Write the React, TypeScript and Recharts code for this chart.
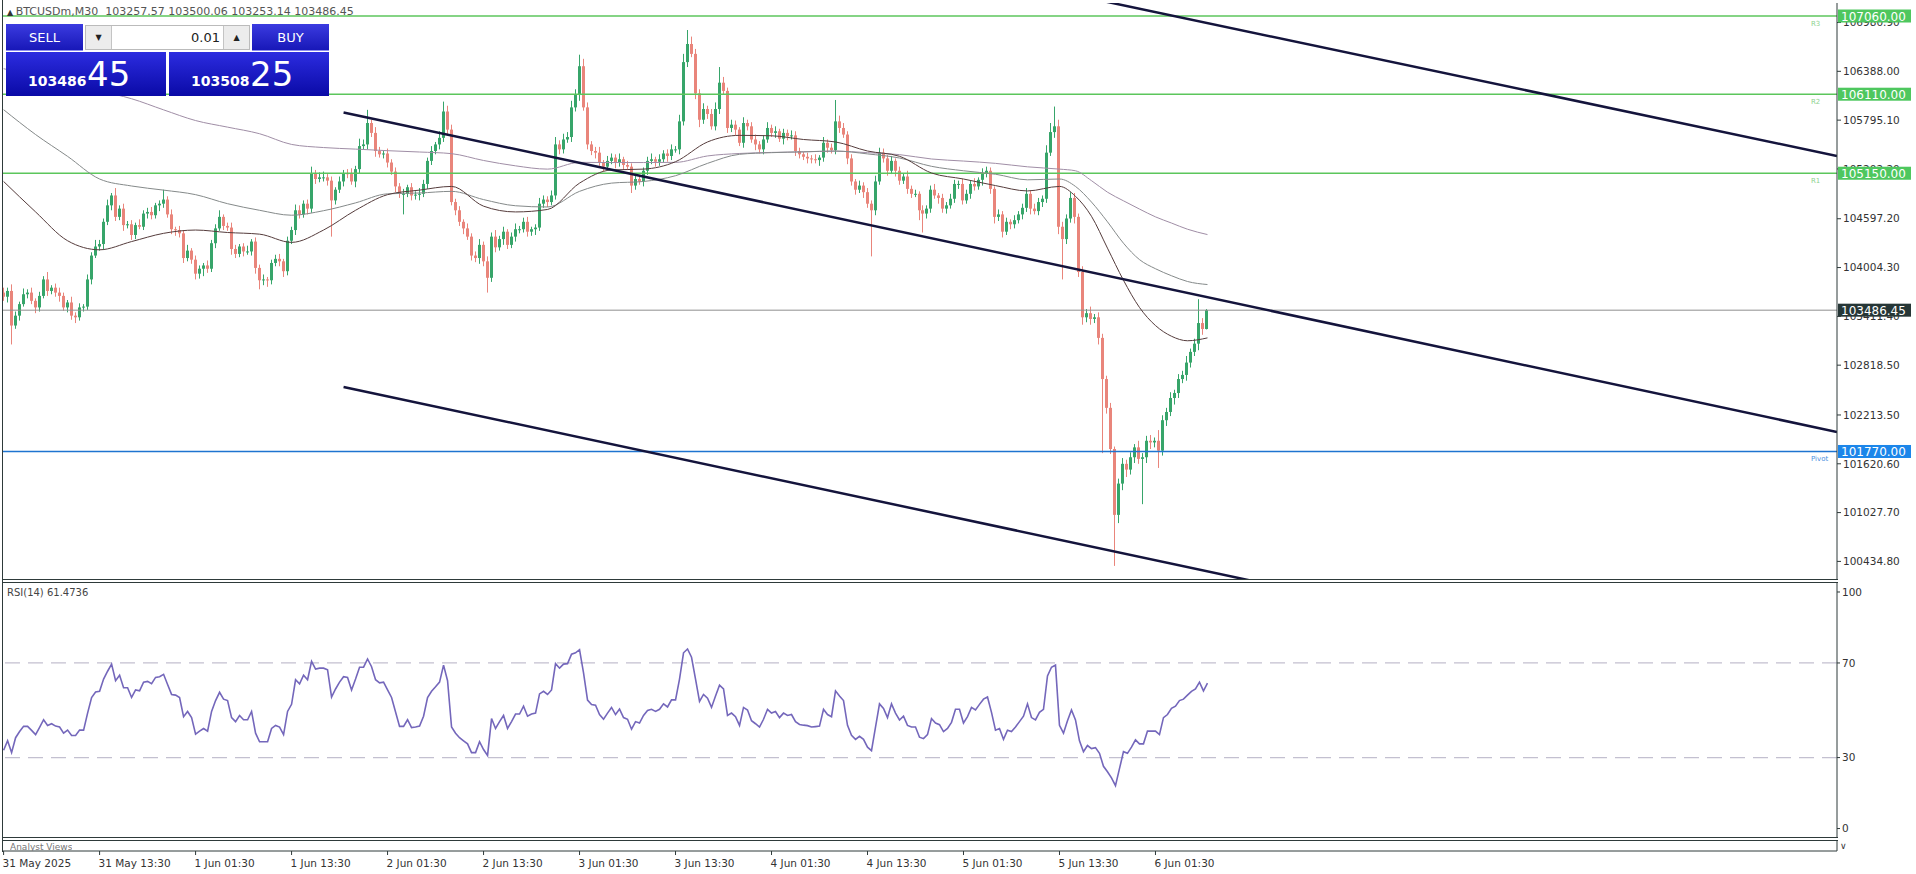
import React from "react";
import { Bar, ComposedChart, Line, ReferenceLine, XAxis, YAxis } from "recharts";

// BTCUSDm M30 candles, 31 May 01:30 .. 6 Jun 07:30
const firstOpen = 103700;
const closes = [
  103650, 103720, 103300, 103420, 103560, 103680, 103700, 103600, 103520, 103660,
  103860, 103720, 103760, 103700, 103660, 103520, 103580, 103420, 103400, 103520,
  103530, 103860, 104150, 104260, 104290, 104560, 104760, 104880, 104620, 104720,
  104520, 104530, 104400, 104520, 104500, 104660, 104680, 104640, 104760, 104780,
  104830, 104650, 104470, 104460, 104420, 104120, 104210, 104100, 103930, 103990,
  104030, 103990, 104300, 104480, 104620, 104510, 104490, 104230, 104170, 104260,
  104200, 104200, 104320, 104000, 103850, 103860, 103850, 104060, 104110, 104080,
  103960, 104330, 104460, 104700, 104650, 104780, 104720, 105150, 105080, 105100,
  105100, 105060, 104820, 104950, 105050, 105150, 105140, 105050, 105200, 105480,
  105500, 105760, 105640, 105420, 105380, 105390, 105280, 105170, 104990, 104900,
  104900, 104980, 104880, 104890, 104900, 105020, 105300, 105420, 105500, 105580,
  105900, 105680, 104800, 104700, 104560, 104480, 104380, 104150, 104120, 104280,
  104080, 103880, 104380, 104250, 104350, 104440, 104280, 104380, 104470, 104470,
  104560, 104440, 104470, 104490, 104780, 104830, 104800, 104880, 105500, 105440,
  105560, 105590, 105950, 106100, 106450, 105950, 105500, 105420, 105400, 105280,
  105230, 105300, 105340, 105280, 105320, 105250, 105230, 105000, 105080, 105050,
  105180, 105300, 105320, 105290, 105320, 105390, 105360, 105440, 105440, 105780,
  106500, 106720, 106600, 106120, 105800, 105930, 105870, 105720, 105930, 106250,
  106150, 105700, 105740, 105680, 105520, 105760, 105720, 105560, 105500, 105440,
  105560, 105700, 105640, 105660, 105570, 105640, 105600, 105610, 105420, 105380,
  105350, 105330, 105320, 105310, 105340, 105520, 105460, 105430, 105780, 105700,
  105620, 105330, 105050, 104950, 105000, 104920, 104780, 104700, 105050, 105400,
  105330, 105180, 105300, 105180, 105060, 105110, 104960, 104900, 104900, 104700,
  104660, 104720, 104950, 104880, 104850, 104720, 104760, 104840, 105020, 105020,
  104820, 104900, 105020, 104990, 105070, 105150, 105180, 104960, 104620, 104650,
  104440, 104560, 104530, 104580, 104650, 104730, 104900, 104720, 104690, 104800,
  104840, 105400, 105650, 105720, 104500, 104350, 104600, 104850, 104620, 103950,
  103400, 103450, 103380, 103400, 103150, 102650, 102300, 101800, 101000, 101380,
  101620, 101550, 101700, 101820, 101680, 101700, 101900, 101880, 101900, 101780,
  102150, 102250, 102420, 102480, 102650, 102700, 102850, 102980, 103080, 103330,
  103257.57, 103486.45,
];
const upWick = [
  60, 40, 80, 50, 30, 70, 40, 60, 30, 50,
  40, 90, 30, 50, 60, 40, 30, 70, 40, 50,
  30, 60, 40, 80, 50, 40, 70, 30, 90, 40,
  60, 40, 50, 30, 70, 40, 50, 60, 30, 40,
  120, 40, 60, 30, 50, 40, 70, 30, 50, 40,
  30, 60, 40, 50, 80, 30, 40, 60, 50, 30,
  40, 70, 30, 50, 40, 60, 30, 40, 50, 60,
  30, 50, 40, 70, 60, 40, 50, 80, 40, 60,
  70, 40, 50, 30, 60, 40, 50, 70, 40, 90,
  60, 160, 40, 70, 50, 30, 60, 40, 50, 40,
  60, 30, 50, 40, 70, 50, 40, 60, 30, 80,
  120, 70, 60, 40, 50, 30, 60, 40, 50, 70,
  40, 60, 50, 80, 40, 60, 30, 50, 70, 40,
  50, 60, 30, 40, 70, 50, 40, 60, 90, 50,
  70, 60, 80, 70, 140, 90, 60, 40, 50, 70,
  30, 60, 50, 40, 70, 30, 50, 40, 60, 50,
  40, 50, 70, 30, 60, 40, 50, 60, 40, 80,
  100, 170, 90, 60, 50, 70, 40, 60, 80, 190,
  70, 40, 60, 50, 30, 70, 40, 50, 60, 40,
  50, 70, 40, 60, 30, 50, 40, 60, 50, 40,
  30, 50, 40, 60, 30, 70, 40, 50, 260, 70,
  60, 40, 50, 30, 60, 40, 50, 40, 70, 60,
  50, 40, 60, 30, 50, 40, 70, 40, 50, 30,
  60, 40, 50, 70, 30, 50, 40, 60, 50, 40,
  60, 50, 40, 70, 30, 60, 50, 40, 30, 60,
  40, 50, 30, 60, 40, 50, 70, 40, 60, 50,
  40, 90, 110, 240, 80, 60, 50, 70, 60, 40,
  70, 50, 80, 40, 60, 50, 40, 60, 30, 60,
  70, 50, 60, 40, 80, 50, 60, 70, 40, 130,
  60, 50, 70, 40, 60, 50, 80, 40, 60, 290,
  60, 13.61,
];
const downWick = [
  50, 70, 230, 40, 60, 30, 50, 40, 70, 50,
  30, 60, 40, 50, 70, 40, 60, 50, 70, 40,
  50, 40, 60, 30, 50, 70, 40, 60, 50, 40,
  70, 40, 60, 50, 30, 40, 60, 50, 40, 70,
  50, 40, 60, 70, 50, 60, 40, 50, 70, 60,
  90, 50, 40, 60, 30, 50, 40, 70, 50, 40,
  60, 40, 50, 70, 110, 60, 80, 50, 40, 60,
  70, 50, 40, 60, 50, 40, 70, 50, 60, 40,
  50, 60, 440, 50, 40, 60, 50, 40, 70, 50,
  40, 60, 50, 70, 40, 50, 60, 40, 70, 50,
  250, 40, 60, 50, 70, 40, 60, 50, 40, 60,
  50, 70, 40, 60, 50, 70, 40, 60, 50, 70,
  60, 180, 50, 60, 40, 70, 50, 40, 60, 50,
  40, 60, 50, 70, 40, 50, 60, 40, 50, 60,
  50, 40, 60, 50, 70, 40, 60, 50, 70, 40,
  60, 50, 40, 70, 50, 60, 40, 90, 50, 40,
  60, 50, 40, 60, 50, 40, 70, 50, 40, 60,
  50, 60, 40, 70, 90, 50, 60, 40, 50, 60,
  40, 60, 50, 70, 40, 60, 50, 40, 70, 50,
  60, 40, 50, 60, 40, 70, 50, 40, 60, 50,
  40, 60, 50, 40, 70, 50, 60, 40, 50, 60,
  40, 70, 50, 60, 40, 70, 50, 560, 60, 40,
  50, 60, 40, 70, 50, 40, 60, 50, 40, 120,
  230, 60, 50, 40, 70, 50, 60, 40, 50, 60,
  50, 40, 60, 50, 40, 70, 50, 60, 80, 50,
  70, 40, 60, 50, 40, 60, 50, 70, 40, 50,
  60, 50, 40, 70, 90, 490, 60, 50, 80, 60,
  90, 60, 70, 50, 80, 900, 70, 60, 620, 100,
  80, 90, 60, 70, 60, 550, 70, 80, 60, 210,
  60, 70, 50, 80, 60, 50, 70, 60, 50, 80,
  70, 4.43,
];

// moving averages, read every 8 bars
const maIdx = [
  0, 8, 16, 24, 32, 40, 48, 56, 64, 72, 80, 88, 96, 104, 112, 120, 128, 136, 144, 152,
  160, 168, 176, 184, 192, 200, 208, 216, 224, 232, 240, 248, 256, 264, 268, 272, 276,
  280, 284, 288, 292, 296, 301,
];
const maFast = [
  105050, 104680, 104330, 104220, 104320, 104420, 104460, 104430, 104410, 104310,
  104460, 104700, 104890, 104945, 104990, 104750, 104680, 104710, 105030, 105190,
  105200, 105290, 105530, 105610, 105605, 105560, 105530, 105420, 105356, 105153,
  105080, 105000, 104935, 104990, 104870, 104627, 104240, 103850, 103520, 103300,
  103170, 103115, 103150,
];
const maMid = [
  105922, 105620, 105355, 105080, 104995, 104945, 104890, 104780, 104700, 104640,
  104695, 104790, 104900, 104910, 104930, 104830, 104755, 104740, 104930, 105030,
  105050, 105120, 105270, 105380, 105400, 105410, 105420, 105385, 105335, 105234,
  105180, 105138, 105070, 105080, 104990, 104800, 104560, 104300, 104101, 103990,
  103905, 103835, 103798,
];
const maSlow = [
  106420, 106330, 106240, 106150, 106055, 105920, 105790, 105710, 105630, 105500,
  105462, 105443, 105424, 105408, 105388, 105305, 105240, 105200, 105282, 105280,
  105280, 105282, 105360, 105390, 105403, 105410, 105418, 105400, 105376, 105323,
  105298, 105270, 105228, 105200, 105180, 105060, 104920, 104815, 104715, 104620,
  104545, 104470, 104405,
];

const rsiValues = [
  33.1, 37.1, 32.1, 38.4, 41.0, 43.2, 43.2, 41.5, 39.7, 42.8,
  46.0, 43.6, 44.3, 43.3, 42.9, 40.3, 41.6, 39.3, 39.3, 41.6,
  41.6, 48.8, 55.4, 57.7, 58.0, 63.2, 66.5, 69.5, 62.5, 64.8,
  59.5, 59.5, 55.4, 58.6, 58.2, 61.9, 62.2, 61.2, 63.9, 64.2,
  65.2, 60.9, 56.7, 56.4, 55.4, 47.3, 49.5, 46.9, 39.9, 41.2,
  42.3, 41.2, 49.5, 54.1, 57.6, 54.7, 54.1, 46.9, 45.2, 47.8,
  46.0, 46.0, 49.5, 40.3, 36.7, 36.7, 36.7, 42.3, 43.6, 42.9,
  39.7, 49.5, 52.5, 62.9, 61.2, 64.8, 62.9, 70.7, 67.4, 67.8,
  67.8, 67.1, 55.6, 59.0, 61.9, 64.2, 63.9, 58.6, 63.2, 68.2,
  68.2, 71.7, 68.4, 62.9, 61.6, 61.9, 58.6, 55.4, 49.3, 43.2,
  43.2, 46.0, 42.7, 42.9, 43.3, 47.5, 55.4, 58.0, 59.9, 61.9,
  69.1, 62.5, 42.9, 40.3, 38.4, 37.1, 35.8, 32.1, 32.1, 36.7,
  33.4, 30.9, 46.5, 42.3, 45.2, 47.8, 42.3, 45.2, 48.4, 48.4,
  51.7, 47.5, 48.4, 48.8, 56.9, 58.0, 56.7, 58.6, 69.7, 67.8,
  69.5, 69.7, 73.7, 74.3, 75.6, 65.8, 54.3, 52.4, 52.1, 48.2,
  46.2, 48.8, 51.2, 48.2, 50.5, 46.9, 46.2, 42.0, 45.2, 44.6,
  47.8, 49.9, 50.4, 49.5, 50.4, 52.7, 51.4, 54.4, 54.4, 63.2,
  74.3, 75.9, 72.4, 63.2, 53.7, 56.7, 55.1, 51.2, 56.0, 60.6,
  59.0, 47.8, 48.8, 47.3, 43.6, 51.2, 50.1, 45.6, 44.3, 42.9,
  46.2, 50.4, 48.8, 49.5, 46.9, 48.8, 47.8, 48.2, 45.2, 44.0,
  43.7, 43.5, 42.9, 43.1, 43.3, 50.4, 48.2, 47.3, 58.2, 56.0,
  54.1, 43.6, 39.4, 37.7, 39.0, 37.7, 34.4, 32.9, 42.9, 52.7,
  50.8, 46.9, 52.7, 48.8, 45.9, 47.5, 43.6, 42.9, 42.9, 38.6,
  38.0, 39.7, 46.5, 44.6, 43.9, 41.0, 42.3, 44.9, 50.4, 50.4,
  44.6, 47.3, 51.2, 50.1, 52.5, 54.7, 55.6, 49.1, 41.6, 42.3,
  37.7, 41.6, 41.0, 42.9, 45.2, 47.5, 52.7, 46.9, 45.9, 49.1,
  50.4, 64.5, 68.2, 69.1, 43.6, 40.3, 45.6, 50.1, 45.9, 37.1,
  32.5, 35.1, 33.8, 34.2, 31.8, 26.3, 24.0, 21.4, 18.1, 25.3,
  32.5, 31.8, 34.4, 37.5, 35.8, 35.8, 41.2, 41.2, 41.2, 39.7,
  46.9, 48.2, 50.8, 51.7, 54.1, 54.7, 56.4, 58.0, 59.0, 61.9,
  58.2, 61.4736,
];

const timeTicks = [0, 24, 48, 72, 96, 120, 144, 168, 192, 216, 240, 264, 288];
const timeLabels = [
  "31 May 2025", "31 May 13:30", "1 Jun 01:30", "1 Jun 13:30", "2 Jun 01:30",
  "2 Jun 13:30", "3 Jun 01:30", "3 Jun 13:30", "4 Jun 01:30", "4 Jun 13:30",
  "5 Jun 01:30", "5 Jun 13:30", "6 Jun 01:30",
];

const priceTicks = [
  106980.9, 106388.0, 105795.1, 105202.2, 104597.2, 104004.3, 103411.4, 102818.5,
  102213.5, 101620.6, 101027.7, 100434.8,
];
const rsiTicks = [0, 30, 70, 100];
const rsiLevels = [70, 30];

const levelPrices = [107060, 106110, 105150];
const levelNames = ["R3", "R2", "R1"];
const pivotPrice = 101770;
const lastPrice = 103486.45;

// channel lines: [x1, y1, x2, y2] in bar index / price
const channelLines = [
  [270, 107292, 458.4, 105360],
  [85, 105889, 458.4, 102007],
  [85, 102554, 320, 100117],
];

const X_DOMAIN = [-0.4, 458.4];
const Y_DOMAIN = [100221, 107218];
const GREEN = "#37a56a";
const RED = "#e9857b";
const FONT = "DejaVu Sans";

const candles = closes.map((c, i) => {
  const o = i === 0 ? firstOpen : closes[i - 1];
  const high = Math.max(o, c) + upWick[i];
  const low = Math.min(o, c) - downWick[i];
  return { i, open: o, close: c, high, low, range: [low, high] };
});
const fastData = maIdx.map((i, k) => ({ i, v: maFast[k] }));
const midData = maIdx.map((i, k) => ({ i, v: maMid[k] }));
const slowData = maIdx.map((i, k) => ({ i, v: maSlow[k] }));
const rsiData = rsiValues.map((v, i) => ({ i, v }));
const axisData = timeTicks.map((i) => ({ i }));

const Candle = (props: any) => {
  const { x, y, width, height, payload } = props;
  if (!payload) return null;
  const { open, close, high, low } = payload;
  const top = Math.min(y, y + height);
  const h = Math.abs(height);
  const k = high === low ? 0 : h / (high - low);
  const yO = top + (high - open) * k;
  const yC = top + (high - close) * k;
  const color = close >= open ? GREEN : RED;
  const rx = Math.round(x);
  const cx = rx + width / 2;
  return (
    <g>
      <line x1={cx} x2={cx} y1={top} y2={top + h} stroke={color} strokeWidth={1} />
      <rect x={rx} y={Math.min(yO, yC)} width={width} height={Math.max(1, Math.abs(yO - yC))} fill={color} />
    </g>
  );
};

// coloured price tag on the right scale (plus the small level name inside the plot)
const priceBox = (text: string, bg: string, tag?: string, tagColor?: string) => (props: any) => {
  const vb = props.viewBox;
  const right = vb.x + vb.width;
  return (
    <g>
      {tag && (
        <text x={right - 26} y={vb.y + 10} fontSize={7} fill={tagColor} fontFamily={FONT}>
          {tag}
        </text>
      )}
      <rect x={right + 1} y={vb.y - 6.5} width={73} height={13} fill={bg} />
      <text x={right + 4} y={vb.y + 4.5} fontSize={12} fill="#fff" fontFamily={FONT}>
        {text}
      </text>
    </g>
  );
};

const TimeTick = (props: any) => {
  const { x, y, payload } = props;
  const label = timeLabels[timeTicks.indexOf(payload.value)];
  return (
    <text x={x - 1} y={y + 10} fontSize={10.5} fill="#333" fontFamily={FONT} textAnchor="start">
      {label}
    </text>
  );
};

const hLine = (top: number): React.CSSProperties => ({
  position: "absolute", left: 2, top, width: 1836, height: 1, background: "#2e3a3a",
});

const blueBox = (left: number, top: number, w: number, h: number): React.CSSProperties => ({
  position: "absolute", left, top, width: w, height: h, color: "#fff",
  background: "linear-gradient(#3b3be0, #1818b8)", boxSizing: "border-box",
});

export default function App() {
  return (
    <div style={{ position: "absolute", left: 0, top: 0, width: 1916, height: 874, background: "#fff", fontFamily: FONT, overflow: "hidden" }}>
      <div style={{ position: "absolute", left: 0, top: 0 }}>
        <ComposedChart width={1916} height={582} data={candles} margin={{ top: 3, right: 0, bottom: 3, left: 2 }}>
          <XAxis dataKey="i" type="number" domain={X_DOMAIN} allowDataOverflow hide />
          <YAxis
            orientation="right"
            width={79}
            domain={Y_DOMAIN}
            allowDataOverflow
            ticks={priceTicks}
            interval={0}
            tickFormatter={(v: number) => v.toFixed(2)}
            tick={{ fontSize: 10.5, fill: "#333", fontFamily: FONT }}
            tickSize={4}
            tickMargin={2}
            stroke="#2e3a3a"
          />
          <ReferenceLine y={lastPrice} stroke="#8f8f8f" strokeWidth={1} />
          {levelPrices.map((p) => (
            <ReferenceLine key={p} y={p} stroke="#5cc65c" strokeWidth={1.6} />
          ))}
          <ReferenceLine y={pivotPrice} stroke="#1e74d0" strokeWidth={1.6} />
          <Line data={slowData} dataKey="v" type="monotone" stroke="#a08ea6" strokeWidth={1} dot={false} isAnimationActive={false} />
          <Line data={midData} dataKey="v" type="monotone" stroke="#858a8a" strokeWidth={1} dot={false} isAnimationActive={false} />
          <Line data={fastData} dataKey="v" type="monotone" stroke="#553c3c" strokeWidth={1} dot={false} isAnimationActive={false} />
          <Bar dataKey="range" barSize={3} shape={<Candle />} isAnimationActive={false} />
          {channelLines.map((s, k) => (
            <ReferenceLine
              key={k}
              segment={[{ x: s[0], y: s[1] }, { x: s[2], y: s[3] }]}
              stroke="#14143c"
              strokeWidth={2.5}
              ifOverflow="hidden"
            />
          ))}
        </ComposedChart>
      </div>

      {/* price tags drawn over the scale, same price scale as the main pane */}
      <div style={{ position: "absolute", left: 0, top: 0 }}>
        <ComposedChart width={1916} height={582} data={candles} margin={{ top: 3, right: 79, bottom: 3, left: 2 }}>
          <XAxis dataKey="i" type="number" domain={X_DOMAIN} allowDataOverflow hide />
          <YAxis domain={Y_DOMAIN} allowDataOverflow hide />
          <ReferenceLine y={lastPrice} stroke="none" label={priceBox(lastPrice.toFixed(2), "#263636")} />
          {levelPrices.map((p, k) => (
            <ReferenceLine
              key={p}
              y={p}
              stroke="none"
              label={priceBox(p.toFixed(2), "#4ec75e", levelNames[k], "#8fd28f")}
            />
          ))}
          <ReferenceLine y={pivotPrice} stroke="none" label={priceBox(pivotPrice.toFixed(2), "#1c86ea", "Pivot", "#4a8fe0")} />
        </ComposedChart>
      </div>

      <div style={{ position: "absolute", left: 0, top: 580 }}>
        <ComposedChart width={1916} height={260} data={rsiData} margin={{ top: 3, right: 0, bottom: 2, left: 2 }}>
          <XAxis dataKey="i" type="number" domain={X_DOMAIN} allowDataOverflow hide />
          <YAxis
            orientation="right"
            width={79}
            domain={[-4, 103.8]}
            allowDataOverflow
            ticks={rsiTicks}
            interval={0}
            tick={{ fontSize: 10.5, fill: "#333", fontFamily: FONT }}
            tickSize={3}
            tickMargin={2}
            stroke="#2e3a3a"
          />
          {rsiLevels.map((v) => (
            <ReferenceLine key={v} y={v} stroke="#c3c0d0" strokeWidth={1.2} strokeDasharray="15 8" />
          ))}
          <Line dataKey="v" type="linear" stroke="#7467bb" strokeWidth={1.6} dot={false} isAnimationActive={false} />
        </ComposedChart>
      </div>

      <div style={{ position: "absolute", left: 0, top: 838 }}>
        <ComposedChart width={1916} height={36} data={axisData} margin={{ top: 2, right: 0, bottom: 0, left: 2 }}>
          <XAxis
            dataKey="i"
            type="number"
            domain={X_DOMAIN}
            allowDataOverflow
            ticks={timeTicks}
            interval={0}
            height={23}
            tickSize={4}
            stroke="#2e3a3a"
            tick={<TimeTick />}
          />
          <YAxis orientation="right" width={79} tick={false} stroke="#2e3a3a" />
        </ComposedChart>
      </div>

      {/* panel frames */}
      <div style={{ position: "absolute", left: 2, top: 0, width: 1, height: 852, background: "#2e3a3a" }} />
      <div style={hLine(579)} />
      <div style={hLine(582)} />
      <div style={hLine(837)} />
      <div style={hLine(840)} />
      <div style={{ position: "absolute", left: 10, top: 841, fontSize: 9, color: "#777", height: 10, overflow: "hidden", lineHeight: "12px" }}>
        Analyst Views
      </div>
      <div style={{ position: "absolute", left: 1840, top: 841, fontSize: 9, color: "#333" }}>∨</div>
      <div style={{ position: "absolute", left: 7, top: 587, fontSize: 10, color: "#444" }}>RSI(14) 61.4736</div>

      {/* title */}
      <div style={{ position: "absolute", left: 7, top: 5, fontSize: 11, color: "#555", whiteSpace: "pre", lineHeight: "13px" }}>
        <span style={{ fontSize: 8, color: "#333" }}>▲ </span>BTCUSDm,M30  103257.57 103500.06 103253.14 103486.45
      </div>

      {/* one click trading panel */}
      <div style={{ ...blueBox(6, 24, 77, 27), fontSize: 13, display: "flex", alignItems: "center", justifyContent: "center", borderBottom: "1px solid #8c8cf0" }}>SELL</div>
      <div style={{ ...blueBox(252, 24, 77, 27), fontSize: 13, display: "flex", alignItems: "center", justifyContent: "center", borderBottom: "1px solid #8c8cf0" }}>BUY</div>
      <div style={{ position: "absolute", left: 85, top: 25, width: 165, height: 25, background: "#fff", border: "1px solid #bbb", boxSizing: "border-box" }}>
        <div style={{ position: "absolute", left: 0, top: 0, width: 25, height: 23, background: "#ececec", borderRight: "1px solid #c4c4c4", fontSize: 8, textAlign: "center", lineHeight: "23px", color: "#222" }}>▼</div>
        <div style={{ position: "absolute", right: 29, top: 0, height: 23, fontSize: 13, lineHeight: "23px", color: "#222" }}>0.01</div>
        <div style={{ position: "absolute", right: 0, top: 0, width: 25, height: 23, background: "#ececec", borderLeft: "1px solid #c4c4c4", fontSize: 8, textAlign: "center", lineHeight: "23px", color: "#222" }}>▲</div>
      </div>
      <div style={{ ...blueBox(6, 52, 160, 44), background: "linear-gradient(#2c2ce0, #0a0aa6)" }}>
        <span style={{ position: "absolute", left: 22, top: 21, fontSize: 14, fontWeight: "bold" }}>103486</span>
        <span style={{ position: "absolute", left: 81, top: 2, fontSize: 34 }}>45</span>
      </div>
      <div style={{ ...blueBox(169, 52, 160, 44), background: "linear-gradient(#2c2ce0, #0a0aa6)" }}>
        <span style={{ position: "absolute", left: 22, top: 21, fontSize: 14, fontWeight: "bold" }}>103508</span>
        <span style={{ position: "absolute", left: 81, top: 2, fontSize: 34 }}>25</span>
      </div>
    </div>
  );
}
